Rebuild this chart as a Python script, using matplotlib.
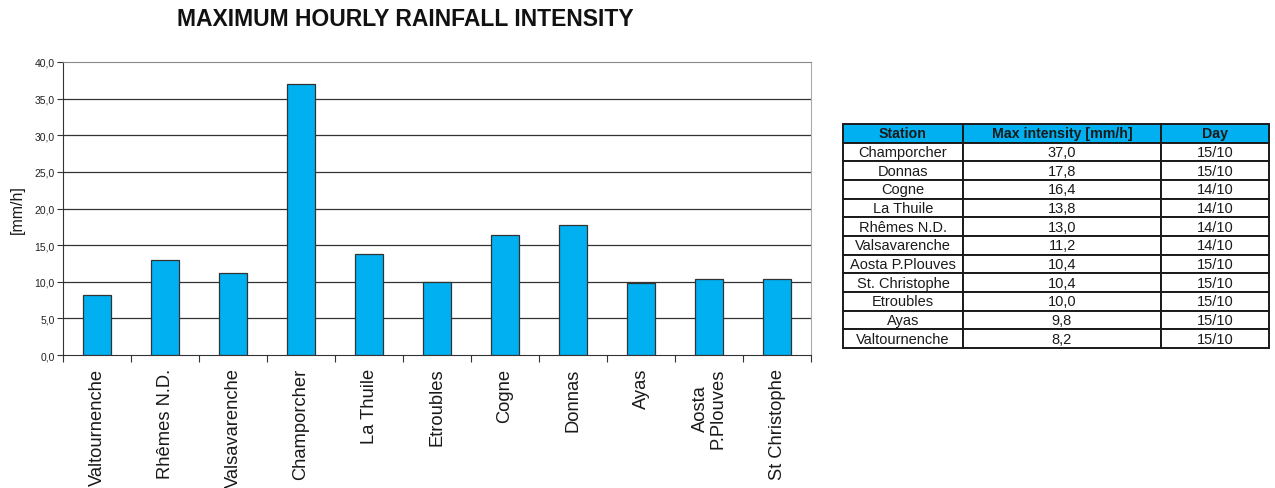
import matplotlib
matplotlib.use("Agg")
import matplotlib.pyplot as plt
import numpy as np

plt.rcParams['font.family'] = ['Liberation Sans', 'DejaVu Sans']

# ---- data ----
stations = ["Valtournenche", "Rhêmes N.D.", "Valsavarenche", "Champorcher", "La Thuile",
            "Etroubles", "Cogne", "Donnas", "Ayas", "Aosta\nP.Plouves", "St Christophe"]
values = [8.2, 13.0, 11.2, 37.0, 13.8, 10.0, 16.4, 17.8, 9.8, 10.4, 10.4]

table_header = ["Station", "Max intensity [mm/h]", "Day"]
table_station = ["Champorcher", "Donnas", "Cogne", "La Thuile", "Rhêmes N.D.", "Valsavarenche",
                 "Aosta P.Plouves", "St. Christophe", "Etroubles", "Ayas", "Valtournenche"]
table_intensity = ["37,0", "17,8", "16,4", "13,8", "13,0", "11,2", "10,4", "10,4", "10,0", "9,8", "8,2"]
table_day = ["15/10", "15/10", "14/10", "14/10", "14/10", "14/10", "15/10", "15/10", "15/10", "15/10", "15/10"]

y_ticks = [0, 5, 10, 15, 20, 25, 30, 35, 40]

W, H = 1275, 489
fig = plt.figure(figsize=(W / 100, H / 100), dpi=100)

# ---- bar chart ----
ax = fig.add_axes([63 / W, 1 - 356 / H, (811 - 63) / W, (356 - 63) / H])
x = np.arange(len(stations))
ax.bar(x, values, width=0.41, color="#00B0F0", edgecolor="#333333", linewidth=0.9, zorder=3)
ax.set_xlim(-0.5, len(stations) - 0.5)
ax.set_ylim(0, 40)
ax.set_yticks(y_ticks)
ax.set_yticklabels([f"{v:.1f}".replace(".", ",") for v in y_ticks], fontsize=7.5, color="#222222")
for v in y_ticks[1:-1]:
    ax.axhline(v, color="#333333", linewidth=0.9, zorder=1)
ax.spines['top'].set_color("#888888")
ax.spines['right'].set_color("#aaaaaa")
ax.spines['left'].set_color("#333333")
ax.spines['bottom'].set_color("#333333")
ax.set_xticks(np.arange(len(stations) + 1) - 0.5)
ax.set_xticklabels([])
ax.tick_params(axis='x', which='major', length=5, color="#333333")
ax.set_xticks(x, minor=True)
ax.set_xticklabels(stations, minor=True, rotation=90, fontsize=13.2, va='top', ha='center',
                   multialignment='center', linespacing=1.0, color="#1a1a1a")
ax.tick_params(axis='x', which='minor', length=0, pad=9)
ax.tick_params(axis='y', length=4, color="#333333", pad=2)
ax.set_ylabel("[mm/h]", fontsize=11.5, labelpad=7, color="#1a1a1a")

fig.text(405 / W, 1 - 19 / H, "MAXIMUM HOURLY RAINFALL INTENSITY", ha='center', va='center',
         fontsize=16.5, fontweight='bold', color="#111111")

# ---- table ----
tax = fig.add_axes([843 / W, 1 - 349 / H, (1269 - 843) / W, (349 - 125) / H])
tax.axis('off')
cell_text = [list(r) for r in zip(table_station, table_intensity, table_day)]
tbl = tax.table(cellText=cell_text, colLabels=table_header, bbox=[0, 0, 1, 1],
                colWidths=[120, 198, 108], cellLoc='center')
tbl.auto_set_font_size(False)
for (r, c), cell in tbl.get_celld().items():
    cell.set_edgecolor("#1a1a1a")
    cell.set_linewidth(1.4)
    cell.get_text().set_fontsize(10.5)
    cell.get_text().set_color("#1a1a1a")
    if r == 0:
        cell.set_facecolor("#00B0F0")
        cell.get_text().set_fontweight('bold')
        cell.get_text().set_fontsize(10.2)

fig.savefig("out.png", dpi=100)
